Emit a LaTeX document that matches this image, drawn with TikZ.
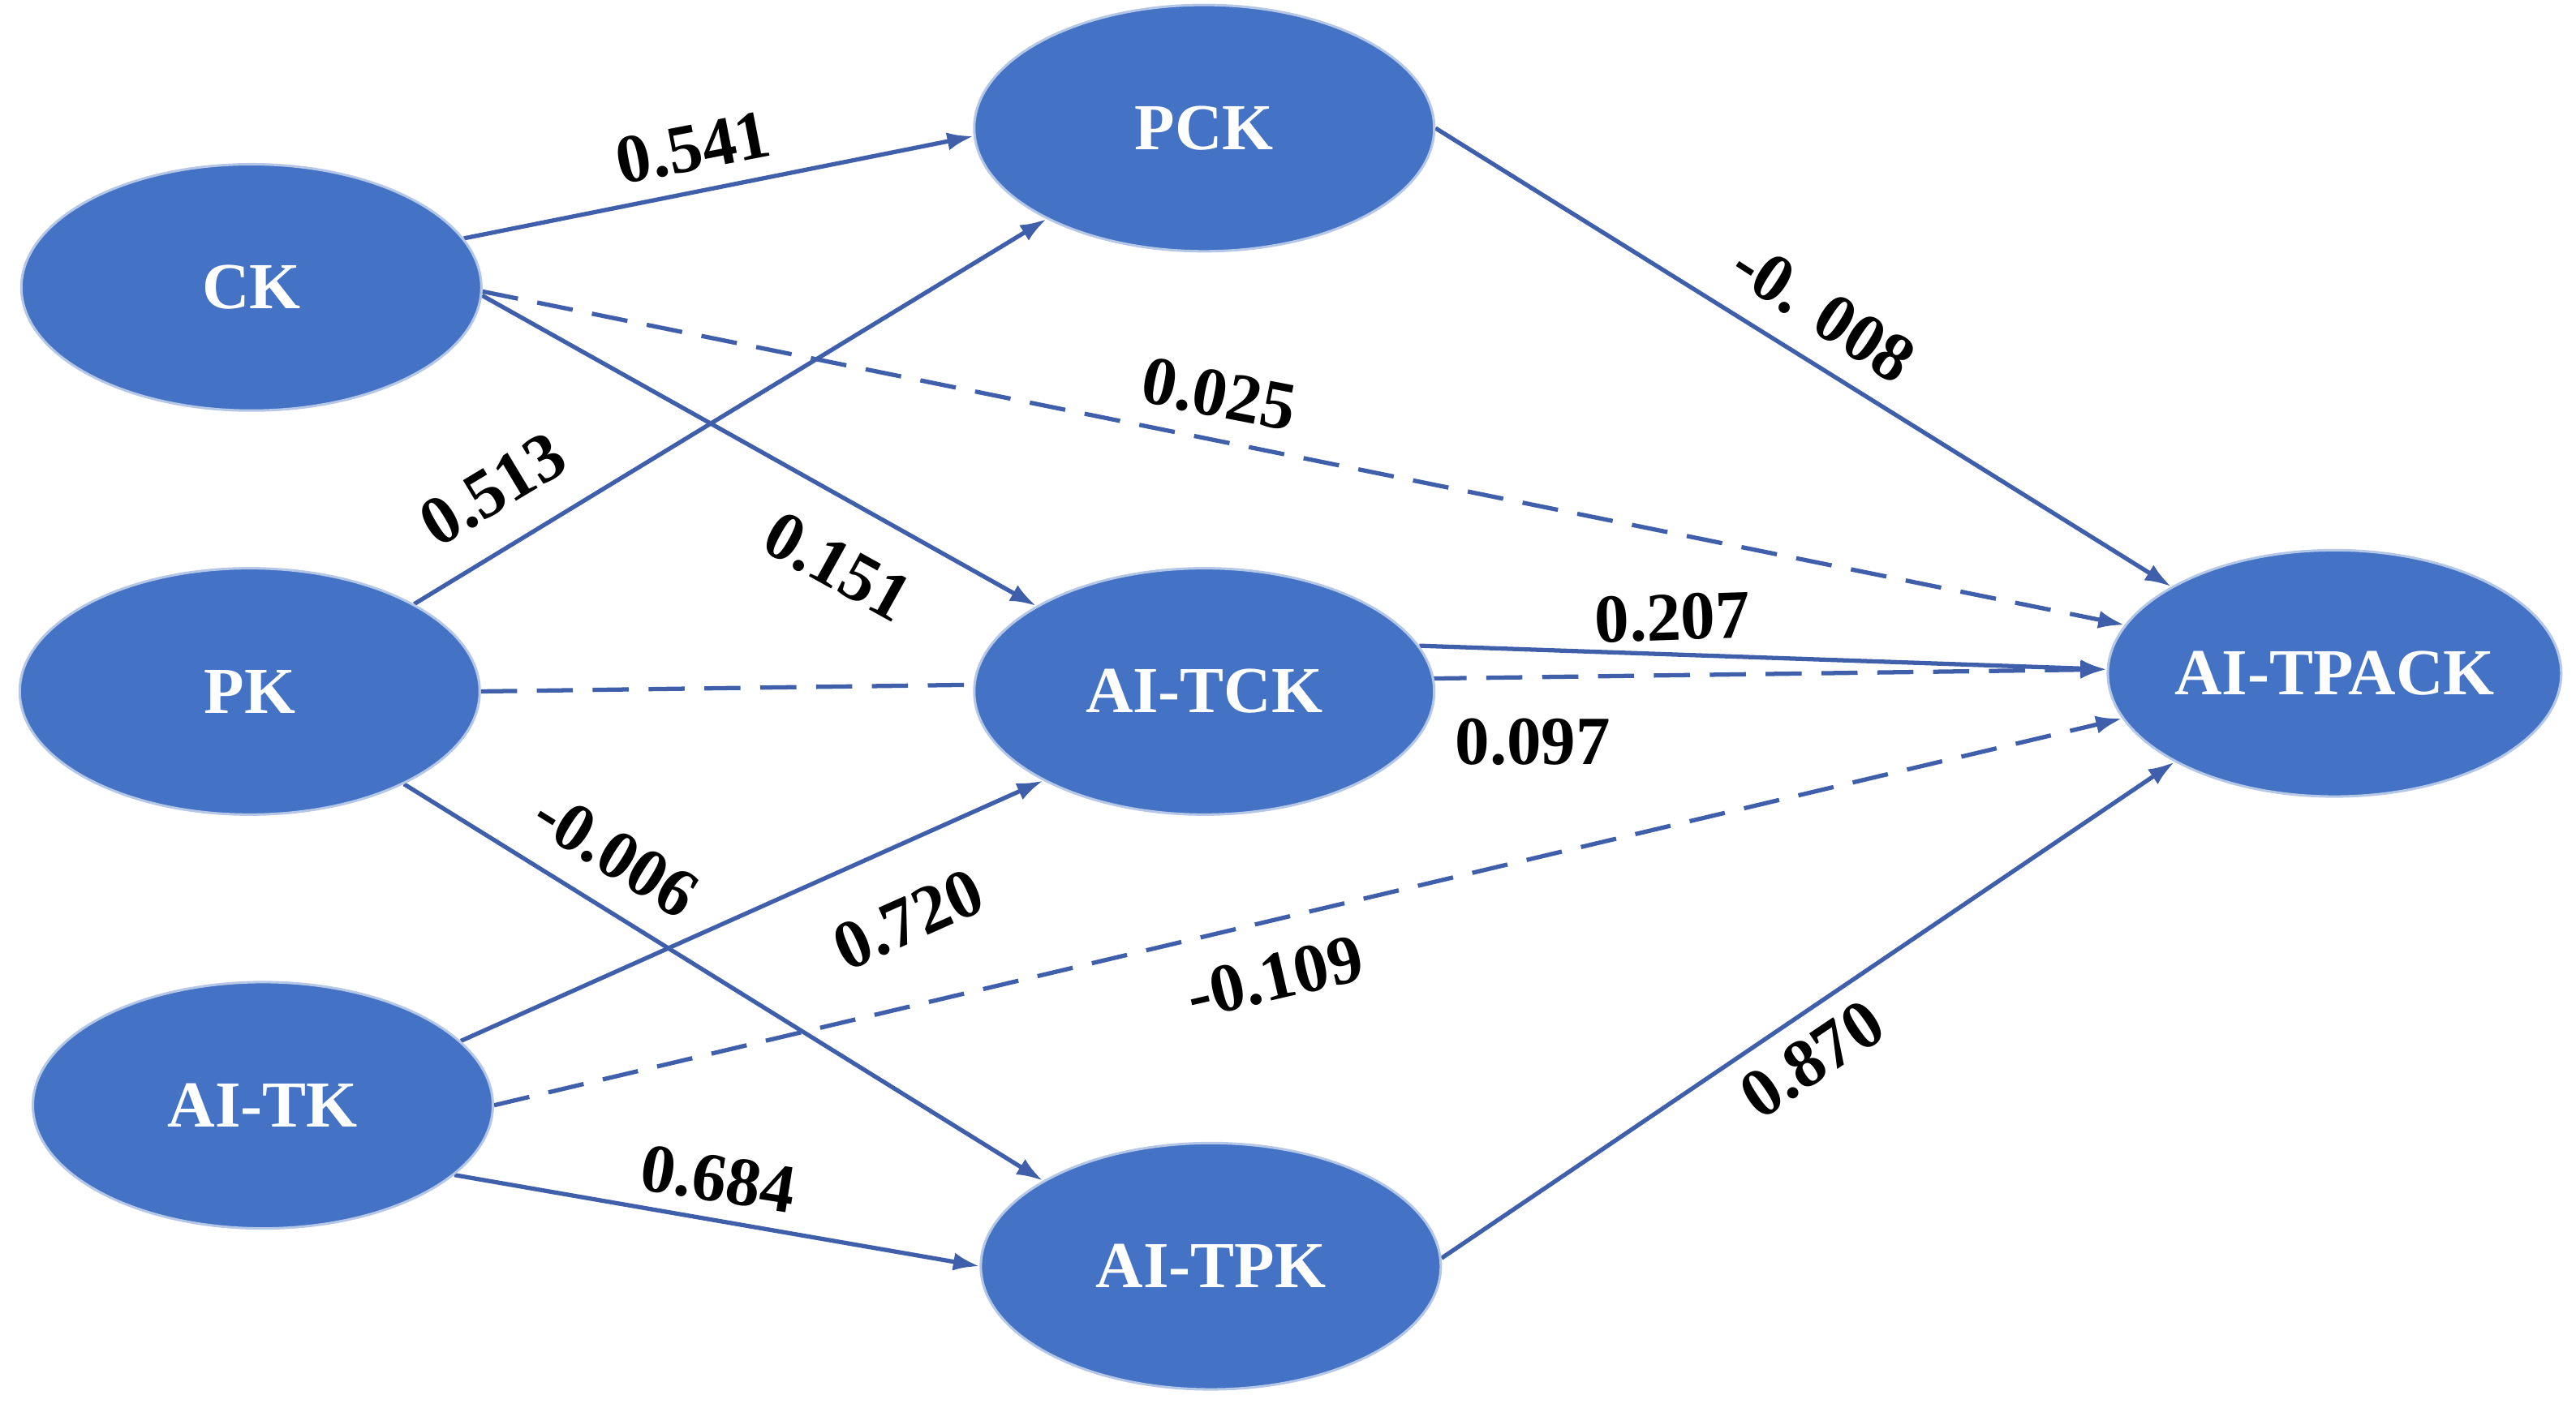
\documentclass[tikz,border=0pt]{standalone}
\usepackage{fontspec}
\setmainfont{Liberation Serif}
\usetikzlibrary{shapes.geometric,arrows.meta,backgrounds}
\definecolor{nodeblue}{HTML}{4472C4}
\definecolor{edgeblue}{HTML}{3F5FAA}
\begin{document}
\begin{tikzpicture}[x=1pt,y=-1pt,
  lv/.style={ellipse,fill=nodeblue,draw=nodeblue!40!white,line width=1.5pt,minimum width=280pt,minimum height=150pt,text=white,font=\fontsize{40}{40}\selectfont\bfseries,inner sep=0pt},
  path/.style={draw=edgeblue,line width=2.6pt,-{Latex[length=16pt,width=11pt]}},
  dsh/.style={path,dash pattern=on 22pt off 12pt},
  lab/.style={font=\fontsize{42}{42}\selectfont\bfseries,text=black,inner sep=0pt}]
\useasboundingbox (0,0) rectangle (1568,857);
\node[lv] (CK) at (153,175) {CK};
\node[lv] (PK) at (152,421) {PK};
\node[lv] (AITK) at (160,673) {AI-TK};
\node[lv] (PCK) at (733,78) {PCK};
\node[lv] (AITCK) at (733,421) {AI-TCK};
\node[lv] (AITPK) at (737,771) {AI-TPK};
\node[lv,minimum width=276pt] (AITPACK) at (1421,410) {AI-TPACK};
\begin{pgfonlayer}{background}
\draw[path] (CK.13) -- (PCK.182);
\draw[dsh] (CK.-1) -- (AITPACK.167);
\draw[path] (CK.-2) -- (AITCK.153);
\draw[path] (PK.28) -- (PCK.210);
\draw[dsh] (PK.0) -- (AITPACK.179);
\draw[path] (PK.-31) -- (AITPK.153);
\draw[path] (AITK.18) -- (AITCK.209);
\draw[dsh] (AITK.0) -- (AITPACK.192);
\draw[path] (AITK.-20) -- (AITPK.180);
\draw[path] (PCK.0) -- (AITPACK.152);
\draw[path] (AITCK.12) -- (AITPACK.179);
\draw[path] (AITPK.2) -- (AITPACK.209);
\end{pgfonlayer}
\node[lab,rotate=11] (l1) at (422,90) {0.541};
\node[lab,rotate=-11] (l2) at (742,240) {0.025};
\node[lab,rotate=-29] (l3) at (510,345) {0.151};
\node[lab,rotate=31] (l4) at (300,298) {0.513};
\node[lab] (l5) at (933,452) {0.097};
\node[lab,rotate=-32] (l6) at (375,520) {-0.006};
\node[lab,rotate=24] (l7) at (553,560) {0.720};
\node[lab,rotate=13] (l8) at (776,595) {-0.109};
\node[lab,rotate=-9] (l9) at (437,718) {0.684};
\node[lab,rotate=-33] (l10) at (1110,190) {-0. 008};
\node[lab,rotate=2] (l11) at (1018,376) {0.207};
\node[lab,rotate=34] (l12) at (1103,645) {0.870};
\end{tikzpicture}
\end{document}
